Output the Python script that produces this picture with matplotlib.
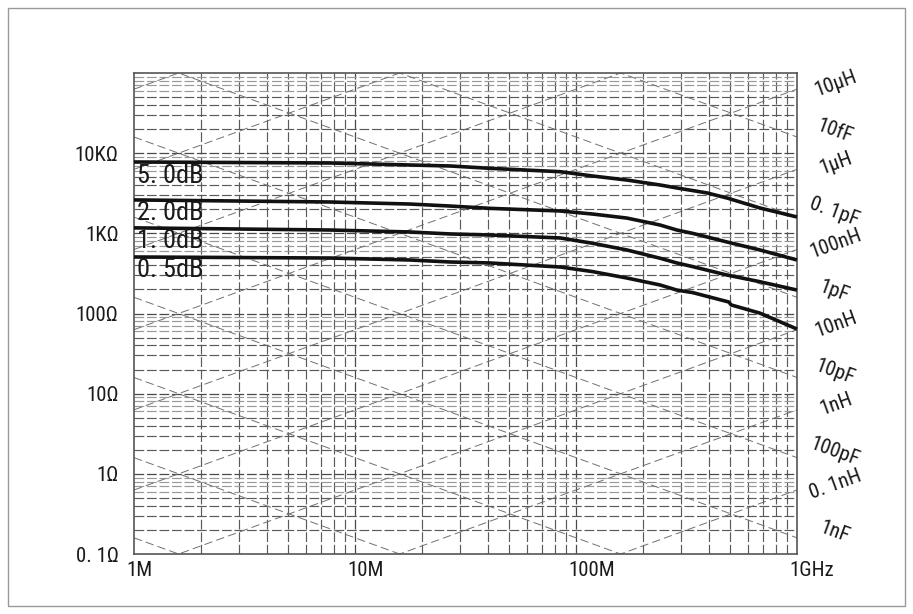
import numpy as np
import matplotlib
matplotlib.use("Agg")
import matplotlib.pyplot as plt
from matplotlib import font_manager as fm
from matplotlib.transforms import offset_copy
from matplotlib.patches import Rectangle


def pick_font(names):
    for n in names:
        try:
            fm.findfont(n, fallback_to_default=False)
            return n
        except Exception:
            pass
    return "DejaVu Sans"


base = pick_font(["Liberation Sans Narrow", "Roboto Condensed", "Liberation Sans"])
plt.rcParams["font.family"] = [base, "DejaVu Sans"]
plt.rcParams["lines.scale_dashes"] = False

# insertion loss curves (frequency in Hz, impedance in ohm)
freq_5db = [1e6, 7.7e6, 17.7e6, 27e6, 40.8e6, 85e6, 119e6, 170e6, 240e6,
            286e6, 392e6, 482e6, 680e6, 1e9]
z_5db = [7760, 7540, 7120, 6920, 6470, 5870, 5190, 4620, 4010,
         3680, 3190, 2760, 2070, 1600]

freq_2db = [1e6, 7.7e6, 17.7e6, 27e6, 40.8e6, 85e6, 119e6, 170e6, 240e6,
            286e6, 338e6, 482e6, 680e6, 1e9]
z_2db = [2610, 2460, 2320, 2190, 2050, 1900, 1740, 1550, 1270,
         1100, 998, 780, 620, 465]

freq_1db = [1e6, 7.7e6, 17.7e6, 27e6, 40.8e6, 85e6, 119e6, 170e6, 240e6,
            286e6, 338e6, 482e6, 680e6, 1e9]
z_1db = [1170, 1100, 1040, 982, 953, 875, 751, 620, 489,
         427, 384, 302, 249, 196]

freq_05db = [1e6, 7.7e6, 17.7e6, 27e6, 40.8e6, 85e6, 119e6, 170e6, 240e6,
             286e6, 338e6, 492e6, 503e6, 680e6, 1e9]
z_05db = [507, 492, 465, 439, 427, 380, 333, 277, 227,
          196, 182, 139, 128, 101, 64]

curve_labels = ["5. 0dB", "2. 0dB", "1. 0dB", "0. 5dB"]
curve_label_z = [5200, 1800, 800, 350]

# reactance guide lines
inductors = [1e-10, 1e-9, 1e-8, 1e-7, 1e-6, 1e-5, 1e-4, 1e-3, 1e-2]
capacitors = [1e-14, 1e-13, 1e-12, 1e-11, 1e-10, 1e-9, 1e-8, 1e-7, 1e-6]
ind_marked = [1e-5, 1e-6, 1e-7, 1e-8, 1e-9, 1e-10]
ind_text = ["10μH", "1μH", "100nH", "10nH", "1nH", "0. 1nH"]
cap_marked = [1e-14, 1e-13, 1e-12, 1e-11, 1e-10, 1e-9]
cap_text = ["10fF", "0. 1pF", "1pF", "10pF", "100pF", "1nF"]

x_ticks = [1e6, 1e7, 1e8, 1e9]
x_tick_labels = ["1M", "10M", "100M", "1GHz"]
y_ticks = [0.1, 1, 10, 100, 1e3, 1e4]
y_tick_labels = ["0. 1Ω", "1Ω", "10Ω", "100Ω", "1KΩ", "10KΩ"]

fig = plt.figure(figsize=(9.13, 6.14), dpi=100)
ax = fig.add_axes([134 / 913, 1 - 554 / 614, 663 / 913, 481 / 614])
ax.set_xscale("log")
ax.set_yscale("log")
ax.set_xlim(1e6, 1e9)
ax.set_ylim(0.1, 1e5)

# grid
for dec in [1e6, 1e7, 1e8]:
    for m in range(2, 10):
        ax.axvline(dec * m, color="#5a5a5a", lw=0.85, ls=(0, (7, 2)), zorder=1)
for dec in [1e7, 1e8]:
    ax.axvline(dec, color="#4a4a4a", lw=0.9, ls=(0, (7, 2)), zorder=1)
for e in range(-1, 5):
    dec = 10.0 ** e
    for m in range(2, 10):
        col = "#999999" if m >= 6 else "#5a5a5a"
        ax.axhline(dec * m, color=col, lw=0.85, ls=(0, (7, 2)), zorder=1)
    if e > -1:
        ax.axhline(dec, color="#4a4a4a", lw=0.9, ls=(0, (7, 2)), zorder=1)

f_line = np.array([1e6, 1e9])
for L in inductors:
    ax.plot(f_line, 2 * np.pi * f_line * L, color="#707070", lw=0.7,
            ls=(0, (6, 3)), zorder=2)
for C in capacitors:
    ax.plot(f_line, 1 / (2 * np.pi * f_line * C), color="#707070", lw=0.7,
            ls=(0, (6, 3)), zorder=2)

for L, s in zip(ind_marked, ind_text):
    ax.annotate(s, xy=(1e9, 2 * np.pi * 1e9 * L), xytext=(28, 4),
                textcoords="offset points", ha="center", va="center",
                rotation=20, rotation_mode="anchor", fontsize=15,
                annotation_clip=False, color="#1a1a1a")
for C, s in zip(cap_marked, cap_text):
    ax.annotate(s, xy=(1e9, 1 / (2 * np.pi * 1e9 * C)), xytext=(27, 4),
                textcoords="offset points", ha="center", va="center",
                rotation=-20, rotation_mode="anchor", fontsize=15,
                annotation_clip=False, color="#1a1a1a")

# curves
for fr, z in [(freq_5db, z_5db), (freq_2db, z_2db), (freq_1db, z_1db), (freq_05db, z_05db)]:
    ax.plot(fr, z, color="#111111", lw=2.6, solid_capstyle="butt",
            solid_joinstyle="round", zorder=4, clip_on=False)

for s, z in zip(curve_labels, curve_label_z):
    ax.text(1.03e6, z, s, fontsize=19, ha="left", va="center", color="#1a1a1a",
            zorder=5)

# axis labels
ax.set_yticks(y_ticks)
ax.set_yticklabels(y_tick_labels, fontsize=15, color="#1a1a1a")
ax.minorticks_off()
ax.set_xticks([])
ax.tick_params(axis="y", length=0, pad=11)

tr = offset_copy(ax.get_xaxis_transform(), fig=fig, x=-8, y=0, units="dots")
for xv, s in zip(x_ticks, x_tick_labels):
    ax.text(xv, -0.034, s, transform=tr, ha="left", va="center", fontsize=15,
            color="#1a1a1a")

for sp in ax.spines.values():
    sp.set_color("#555555")
    sp.set_linewidth(1.2)

fig.add_artist(Rectangle((8 / 913, 8 / 614), 897 / 913, 598 / 614,
                         transform=fig.transFigure, fill=False,
                         edgecolor="#999999", lw=1))

fig.savefig("out.png", dpi=100)
